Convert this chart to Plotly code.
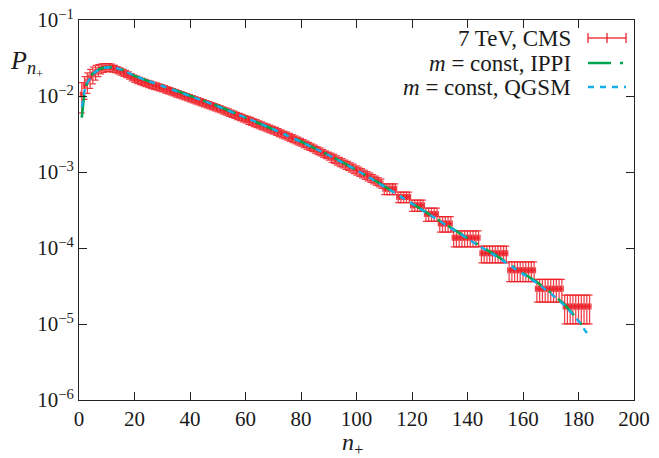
import plotly.graph_objects as go

# ---------------- data ----------------
# CMS 7 TeV: individual multiplicities n+ = 1..109
n_first = 1
P_data = [
    0.0105, 0.0135, 0.0155, 0.0175, 0.0192, 0.0207, 0.0220, 0.0230, 0.0236, 0.0238,
    0.0238, 0.0234, 0.0228, 0.0220, 0.0212, 0.0204, 0.0196, 0.0187, 0.0178, 0.0170,
    0.0164, 0.0159, 0.0154, 0.0149, 0.0145, 0.0141, 0.0137, 0.0134, 0.0130, 0.0127,
    0.0123, 0.0120, 0.0116, 0.0113, 0.0109, 0.0106, 0.0103, 0.0100, 0.0097, 0.0094,
    0.00912, 0.00885, 0.00859, 0.00833, 0.00808, 0.00784, 0.00761, 0.00738, 0.00716, 0.00695,
    0.00672, 0.00650, 0.00629, 0.00608, 0.00588, 0.00569, 0.00550, 0.00532, 0.00515, 0.00498,
    0.00482, 0.00466, 0.00450, 0.00436, 0.00421, 0.00407, 0.00394, 0.00381, 0.00369, 0.00357,
    0.00344, 0.00332, 0.00320, 0.00309, 0.00298, 0.00287, 0.00277, 0.00267, 0.00257, 0.00248,
    0.00238, 0.00228, 0.00219, 0.00210, 0.00201, 0.00193, 0.00185, 0.00177, 0.00170, 0.00163,
    0.00156, 0.00150, 0.00143, 0.00137, 0.00132, 0.00126, 0.00121, 0.00116, 0.00111, 0.00106,
    0.001015, 0.00097, 0.000927, 0.000886, 0.000847, 0.00081, 0.000774, 0.00074, 0.000707,
]
# relative errors of the first points, then of the regions that follow
rel_err_head = [0.43, 0.33, 0.30, 0.28, 0.25, 0.22, 0.18, 0.15, 0.13, 0.12, 0.12, 0.12]
rel_err_regions = [(13, 60, 0.11), (61, 90, 0.12), (91, 109, 0.14)]

# CMS tail: merged bins (same value at every n inside a bin)
bin_lo = [110, 115, 120, 125, 130, 135, 145, 155, 165, 175]
bin_hi = [114, 119, 124, 129, 134, 144, 154, 164, 174, 184]
bin_P = [6.0e-4, 4.7e-4, 3.65e-4, 2.8e-4, 2.1e-4, 1.36e-4, 8.5e-5, 5.1e-5, 2.9e-5, 1.7e-5]
bin_rel = [0.16, 0.16, 0.17, 0.20, 0.23, 0.24, 0.25, 0.29, 0.33, 0.41]

# model curves
model_n = [1, 2, 3, 4, 5, 6, 7, 8, 9, 10, 11, 12, 13, 14, 16, 18, 20, 25, 30, 35, 40, 45, 50,
           55, 60, 65, 70, 75, 80, 85, 90, 95, 100, 105, 110, 115, 120, 125, 130, 135, 140,
           145, 150, 155, 160, 165, 170, 175, 180, 183]
ippi_P = [0.0052, 0.0113, 0.0152, 0.0178, 0.0197, 0.0212, 0.0223, 0.0231, 0.0236, 0.0239,
          0.0240, 0.0239, 0.0236, 0.0231, 0.0218, 0.0200, 0.0184, 0.0157, 0.0137, 0.0118,
          0.0101, 0.0087, 0.0074, 0.0062, 0.0052, 0.00440, 0.00368, 0.00305, 0.00252,
          0.00206, 0.00167, 0.00134, 0.00107, 0.00084, 0.00065, 0.000500, 0.000385,
          0.000295, 0.000225, 0.000172, 0.000133, 0.000104, 8.1e-5, 6.2e-5, 4.7e-5,
          3.55e-5, 2.6e-5, 1.8e-5, 1.12e-5, 7.8e-6]
qgsm_P = [0.0072, 0.0118, 0.0150, 0.0174, 0.0193, 0.0208, 0.0220, 0.0229, 0.0235, 0.0238,
          0.0239, 0.0238, 0.0235, 0.0230, 0.0217, 0.0200, 0.0184, 0.0157, 0.0136, 0.0117,
          0.0100, 0.0086, 0.0073, 0.0062, 0.0052, 0.00438, 0.00366, 0.00303, 0.00250,
          0.00204, 0.00166, 0.00133, 0.00106, 0.00083, 0.00065, 0.000498, 0.000383,
          0.000293, 0.000223, 0.000170, 0.000131, 0.000102, 7.9e-5, 6.0e-5, 4.6e-5,
          3.45e-5, 2.52e-5, 1.75e-5, 1.10e-5, 7.6e-6]

x_ticks = list(range(0, 201, 20))
y_tickvals = [1e-6, 1e-5, 1e-4, 1e-3, 1e-2, 1e-1]
y_ticktext = ["10<sup>−6</sup>", "10<sup>−5</sup>", "10<sup>−4</sup>",
              "10<sup>−3</sup>", "10<sup>−2</sup>", "10<sup>−1</sup>"]

legend_labels = ["7 TeV, CMS", "<i>m</i> = const, IPPI", "<i>m</i> = const, QGSM"]

# ---------------- build the data table ----------------
xs, ys, ey = [], [], []
for i, p in enumerate(P_data):
    n = n_first + i
    if i < len(rel_err_head):
        r = rel_err_head[i]
    else:
        r = next(v for a, b, v in rel_err_regions if a <= n <= b)
    xs.append(n); ys.append(p); ey.append(p * r)
for lo, hi, p, r in zip(bin_lo, bin_hi, bin_P, bin_rel):
    for n in range(lo, hi + 1):
        xs.append(n); ys.append(p); ey.append(p * r)
ex = [0.5] * len(xs)

RED = "rgba(236,28,36,0.85)"
GREEN = "#00a550"
CYAN = "#14aeea"
FONT = "Liberation Serif, Times New Roman, Times, serif"
TXT = "#1a1a1a"

fig = go.Figure()
fig.add_trace(go.Scatter(
    x=xs, y=ys, mode="markers",
    marker=dict(symbol="line-ns", size=3, color=RED, line=dict(color=RED, width=1)),
    error_y=dict(type="data", array=ey, visible=True, color=RED, thickness=1.25, width=3),
    error_x=dict(type="data", array=ex, visible=True, color=RED, thickness=1.25, width=3),
    showlegend=False,
))
fig.add_trace(go.Scatter(
    x=model_n, y=ippi_P, mode="lines",
    line=dict(color=GREEN, width=2.6, dash="23px,9px,3px,9px"),
    showlegend=False,
))
fig.add_trace(go.Scatter(
    x=model_n, y=qgsm_P, mode="lines",
    line=dict(color=CYAN, width=2.4, dash="6px,6px"),
    showlegend=False,
))

# ---------------- layout ----------------
# the page body adds an 8px offset, so the figure is made 8px smaller to fit the window;
# plot area wanted at screen x 79..634, y 20..400
WIN_W, WIN_H = 659, 458
OFF = 8
W, H = WIN_W - OFF, WIN_H - OFF
SX0, SX1, SY0, SY1 = 79, 634, 20, 400
L, R = SX0 - OFF, W - (SX1 - OFF)
T, B = SY0 - OFF, H - (SY1 - OFF)
pw, ph = SX1 - SX0, SY1 - SY0


def px(xs_):
    return (xs_ - SX0) / pw


def py(ys_):
    return (SY1 - ys_) / ph


shapes = []
annotations = []
rows_y = [38, 63, 87]
s0, s1 = 588, 626
for lab, yr in zip(legend_labels, rows_y):
    annotations.append(dict(x=px(573), y=py(yr), xref="paper", yref="paper", text=lab,
                            showarrow=False, xanchor="right", yanchor="middle",
                            font=dict(family=FONT, size=23, color=TXT)))
# CMS sample
shapes.append(dict(type="line", xref="paper", yref="paper", x0=px(s0), x1=px(s1),
                   y0=py(rows_y[0]), y1=py(rows_y[0]), line=dict(color=RED, width=1.5)))
for xx, hh in [(s0, 5), (s1, 5), ((s0 + s1) / 2, 5)]:
    shapes.append(dict(type="line", xref="paper", yref="paper", x0=px(xx), x1=px(xx),
                       y0=py(rows_y[0] - hh), y1=py(rows_y[0] + hh),
                       line=dict(color=RED, width=1.5)))
# IPPI sample
shapes.append(dict(type="line", xref="paper", yref="paper", x0=px(s0), x1=px(s1),
                   y0=py(rows_y[1]), y1=py(rows_y[1]),
                   line=dict(color=GREEN, width=2.6, dash="23px,9px,3px,9px")))
# QGSM sample
shapes.append(dict(type="line", xref="paper", yref="paper", x0=px(s0), x1=px(s1),
                   y0=py(rows_y[2]), y1=py(rows_y[2]),
                   line=dict(color=CYAN, width=2.4, dash="6px,6px")))

# axis titles
annotations.append(dict(x=px(8), y=py(63), xref="paper", yref="paper",
                        text="<i>P</i><sub><i>n</i><sub>+</sub></sub>", showarrow=False,
                        xanchor="left", yanchor="middle",
                        font=dict(family=FONT, size=26, color=TXT)))
annotations.append(dict(x=px(352), y=py(444), xref="paper", yref="paper",
                        text="<i>n</i><sub>+</sub>", showarrow=False,
                        xanchor="center", yanchor="middle",
                        font=dict(family=FONT, size=24, color=TXT)))

axis_common = dict(showline=True, linecolor="#222", linewidth=1, mirror="ticks",
                   ticks="inside", ticklen=8, tickwidth=1, tickcolor="#222",
                   showgrid=False, zeroline=False, automargin=False,
                   ticklabeloverflow="allow",
                   tickfont=dict(family=FONT, size=21, color=TXT))

fig.update_layout(
    width=W, height=H,
    margin=dict(l=L, r=R, t=T, b=B),
    paper_bgcolor="white", plot_bgcolor="white",
    font=dict(family=FONT, color=TXT),
    shapes=shapes, annotations=annotations,
    xaxis=dict(range=[0, 200], tickvals=x_ticks, **axis_common),
    yaxis=dict(type="log", range=[-6, -1], tickvals=y_tickvals, ticktext=y_ticktext,
               **axis_common),
    showlegend=False,
)

fig.write_html("out.html")
